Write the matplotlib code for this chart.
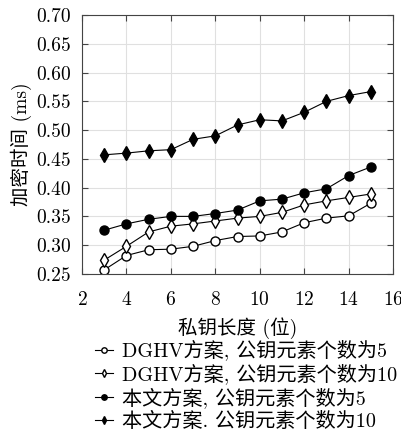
import matplotlib
matplotlib.use("Agg")
import matplotlib.pyplot as plt

plt.rcParams['font.family'] = ['cmr10', 'Noto Sans CJK SC']
plt.rcParams['axes.formatter.use_mathtext'] = True

x = [3, 4, 5, 6, 7, 8, 9, 10, 11, 12, 13, 14, 15]
dghv_5 = [0.257, 0.282, 0.292, 0.293, 0.298, 0.308, 0.315, 0.316, 0.323, 0.339, 0.347, 0.351, 0.373]
dghv_10 = [0.274, 0.298, 0.323, 0.333, 0.337, 0.342, 0.347, 0.350, 0.357, 0.370, 0.377, 0.383, 0.389]
ours_5 = [0.326, 0.337, 0.345, 0.350, 0.350, 0.355, 0.361, 0.377, 0.380, 0.391, 0.398, 0.421, 0.436]
ours_10 = [0.457, 0.460, 0.464, 0.466, 0.484, 0.490, 0.509, 0.518, 0.516, 0.531, 0.550, 0.560, 0.567]
labels = ['DGHV方案, 公钥元素个数为5', 'DGHV方案, 公钥元素个数为10',
          '本文方案, 公钥元素个数为5', '本文方案. 公钥元素个数为10']

fig = plt.figure(figsize=(4.02, 4.30), dpi=100)
ax = fig.add_axes([0.204, 0.363, 0.774, 0.602])

ax.plot(x, dghv_5, '-o', color='black', mfc='white', mec='black', ms=6.5, lw=0.8, label=labels[0])
ax.plot(x, dghv_10, '-d', color='black', mfc='white', mec='black', ms=7, lw=0.8, label=labels[1])
ax.plot(x, ours_5, '-o', color='black', mfc='black', ms=6.5, lw=0.8, label=labels[2])
ax.plot(x, ours_10, '-d', color='black', mfc='black', ms=7, lw=0.8, label=labels[3])

ax.set_xlim(2, 16)
ax.set_ylim(0.25, 0.70)
ax.set_xticks(range(2, 17, 2))
ax.set_yticks([0.25 + 0.05 * i for i in range(10)])
ax.set_yticklabels(['%.2f' % (0.25 + 0.05 * i) for i in range(10)])
ax.grid(True, color='#e0e0e0', lw=0.8)
ax.set_axisbelow(True)
ax.tick_params(direction='in', top=True, right=True, labelsize=14, length=4, color='#444444')
ax.tick_params(axis='x', pad=12)
ax.tick_params(axis='y', pad=8)
for s in ax.spines.values():
    s.set_color('#444444')

ax.set_xlabel('私钥长度 (位)', fontsize=14, labelpad=6)
ax.set_ylabel('加密时间 (ms)', fontsize=14, labelpad=3)

ax.legend(loc='upper left', bbox_to_anchor=(0.042, -0.254), frameon=False, fontsize=14.5,
          handlelength=0.9, handletextpad=0.45, labelspacing=0.15, markerscale=0.6, borderaxespad=0,
          borderpad=0)

fig.savefig('out.png', dpi=100)
